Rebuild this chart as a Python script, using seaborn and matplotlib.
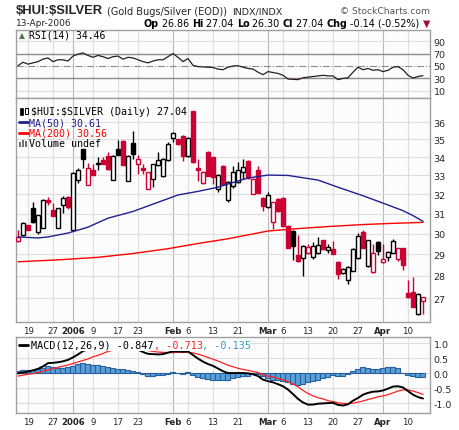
import matplotlib
matplotlib.use('Agg')
import matplotlib.pyplot as plt
import numpy as np
import seaborn as sns
from matplotlib.lines import Line2D
from matplotlib.patches import Rectangle
from matplotlib.ticker import FixedLocator, FixedFormatter, NullLocator

# one entry per session, 15-Dec-2005 .. 13-Apr-2006
opens = [29.65, 29.93, 30.45, 31.29, 30.10, 30.30, 31.72, 31.19, 30.29, 31.44,
         31.84, 30.20, 32.73, 34.44, 32.50, 33.28, 33.60, 33.85, 34.06, 32.78,
         34.44, 34.92, 32.71, 34.82, 33.62, 33.42, 32.28, 32.80, 33.58, 32.97,
         33.84, 35.08, 35.00, 35.20, 34.07, 36.67, 33.42, 32.60, 34.29, 34.00,
         32.28, 33.51, 31.72, 32.42, 32.63, 33.17, 33.77, 32.02, 33.31, 31.80,
         31.33, 30.59, 31.76, 31.81, 30.40, 30.15, 28.97, 28.82, 29.07, 28.86,
         29.07, 29.69, 29.21, 29.26, 28.63, 28.12, 27.79, 28.24, 28.84, 30.07,
         28.45, 28.19, 29.61, 28.63, 28.86, 29.07, 28.76, 29.30, 27.20, 27.26,
         26.30, 26.86]
highs = [30.20, 30.60, 30.45, 31.60, 30.95, 31.75, 31.85, 31.55, 31.30, 31.93,
         31.90, 33.20, 33.40, 34.45, 33.70, 33.60, 34.00, 34.00, 34.30, 34.10,
         34.95, 34.95, 34.10, 35.50, 34.10, 33.65, 33.20, 33.65, 34.30, 33.95,
         34.85, 35.45, 35.05, 35.25, 35.15, 36.70, 33.90, 33.25, 34.35, 34.00,
         33.10, 33.55, 32.70, 33.50, 33.73, 33.90, 33.82, 32.85, 33.53, 31.85,
         32.11, 31.60, 31.80, 31.85, 30.45, 30.20, 29.93, 29.45, 29.50, 29.60,
         29.84, 29.70, 29.50, 29.66, 28.70, 28.35, 28.45, 29.30, 30.04, 30.20,
         29.70, 29.50, 29.65, 29.50, 29.15, 29.74, 29.32, 29.32, 27.79, 27.96,
         27.20, 27.04]
lows = [29.60, 29.90, 30.20, 30.55, 29.96, 30.30, 31.45, 30.87, 30.28, 31.02,
        31.25, 30.15, 32.60, 33.40, 32.50, 33.00, 33.30, 33.60, 33.30, 32.75,
        34.10, 33.55, 32.70, 33.90, 33.10, 33.10, 32.25, 32.40, 33.50, 32.90,
        33.80, 34.85, 34.70, 33.80, 34.00, 33.70, 32.70, 32.55, 32.95, 32.55,
        32.10, 32.50, 31.60, 32.35, 32.60, 32.81, 32.80, 32.00, 32.05, 31.11,
        31.30, 30.23, 31.10, 30.35, 29.30, 28.71, 28.66, 27.97, 29.00, 28.80,
        29.00, 29.20, 29.05, 29.00, 27.87, 28.10, 27.64, 28.20, 28.80, 29.30,
        28.40, 28.15, 28.95, 28.60, 28.70, 29.05, 28.70, 28.28, 27.00, 26.60,
        26.28, 26.30]
closes = [29.85, 30.53, 30.20, 30.58, 30.93, 31.70, 31.62, 30.87, 31.27, 31.79,
          31.32, 33.14, 33.31, 33.91, 33.41, 33.04, 33.70, 33.62, 33.35, 34.06,
          34.13, 33.58, 34.06, 34.17, 33.90, 33.32, 33.19, 33.62, 33.84, 33.90,
          34.74, 35.37, 34.72, 34.07, 35.10, 33.73, 33.30, 33.20, 32.97, 32.90,
          33.00, 32.54, 32.65, 33.17, 33.31, 33.44, 32.85, 32.81, 32.07, 31.38,
          31.98, 31.59, 31.15, 30.40, 29.30, 29.40, 28.68, 29.39, 29.33, 29.42,
          29.45, 29.26, 29.36, 29.02, 28.06, 28.32, 28.39, 29.26, 29.88, 29.31,
          29.69, 29.07, 29.18, 28.79, 29.10, 29.64, 29.30, 28.50, 27.03, 26.62,
          27.18, 27.04]
prev_close = 30.10  # session before the first one shown

ma50_days = [0, 4, 6, 10, 14, 18, 23, 28, 32, 36, 40, 42, 46, 50, 54, 60, 64, 69, 74, 77, 79, 81]
ma50 = [29.84, 29.79, 29.84, 30.03, 30.32, 30.77, 31.11, 31.58, 31.96, 32.15, 32.37,
        32.54, 32.86, 33.02, 33.00, 32.75, 32.37, 31.92, 31.44, 31.15, 30.90, 30.61]
ma200_days = [0, 8, 16, 23, 30, 36, 42, 50, 56, 62, 69, 74, 81]
ma200 = [28.65, 28.74, 28.86, 29.04, 29.27, 29.52, 29.75, 30.13, 30.25, 30.35, 30.45, 30.50, 30.56]

rsi = [50.5, 56, 53, 55, 57, 61, 63, 57, 60, 60, 58, 66, 69, 71, 67, 64, 67, 65, 62, 65,
       66, 61, 64, 63, 60, 57, 55, 58, 60, 60, 65, 70, 64, 57, 62, 51, 49, 48.5, 48, 47.5,
       45, 44, 48, 50, 50.5, 48, 46, 45, 40, 36, 41, 39.5, 38, 35, 29, 28.5, 28, 31, 32, 33,
       34, 35, 34, 34, 28, 30, 31, 40, 48, 44, 46, 43, 44, 41, 43, 48, 49, 44, 35, 30.5,
       33, 34.46]

macd = [-0.01, 0.02, 0.05, 0.09, 0.14, 0.22, 0.33, 0.34, 0.36, 0.39, 0.44, 0.52, 0.62, 0.73,
        0.80, 0.84, 0.88, 0.90, 0.90, 0.92, 0.93, 0.90, 0.88, 0.86, 0.78, 0.70, 0.64, 0.63,
        0.62, 0.63, 0.68, 0.72, 0.72, 0.71, 0.72, 0.60, 0.48, 0.38, 0.30, 0.24, 0.15, 0.06,
        0.0, 0.0, 0.0, 0.0, -0.01, -0.04, -0.10, -0.22, -0.27, -0.31, -0.37, -0.44, -0.55,
        -0.70, -0.86, -0.98, -1.05, -1.05, -1.02, -1.01, -1.0, -0.99, -1.06, -1.08, -1.04,
        -0.92, -0.83, -0.72, -0.66, -0.62, -0.61, -0.58, -0.52, -0.45, -0.44, -0.48, -0.60,
        -0.72, -0.80, -0.847]
signal = [-0.10, -0.07, -0.04, -0.02, 0.02, 0.06, 0.11, 0.15, 0.19, 0.23, 0.27, 0.32, 0.37,
          0.42, 0.47, 0.54, 0.59, 0.65, 0.72, 0.76, 0.79, 0.80, 0.81, 0.81, 0.80, 0.78, 0.75,
          0.72, 0.70, 0.69, 0.68, 0.68, 0.69, 0.69, 0.69, 0.67, 0.63, 0.58, 0.52, 0.46, 0.40,
          0.33, 0.26, 0.21, 0.16, 0.12, 0.09, 0.05, 0.02, -0.06, -0.10, -0.13, -0.18, -0.22,
          -0.29, -0.36, -0.46, -0.58, -0.68, -0.76, -0.82, -0.86, -0.92, -0.95, -0.99, -1.01,
          -1.02, -1.0, -0.97, -0.93, -0.88, -0.84, -0.79, -0.76, -0.72, -0.66, -0.60, -0.56,
          -0.56, -0.60, -0.65, -0.713]
hist = [0.08, 0.11, 0.11, 0.11, 0.13, 0.18, 0.22, 0.20, 0.18, 0.18, 0.20, 0.25, 0.31, 0.32,
        0.30, 0.28, 0.27, 0.24, 0.20, 0.17, 0.15, 0.12, 0.09, 0.07, 0.03, -0.03, -0.10, -0.10,
        -0.08, -0.06, -0.02, 0.03, 0.0, -0.03, 0.02, -0.05, -0.12, -0.17, -0.20, -0.22, -0.24,
        -0.24, -0.22, -0.15, -0.13, -0.11, -0.11, -0.04, -0.02, -0.11, -0.15, -0.22, -0.24,
        -0.27, -0.30, -0.36, -0.39, -0.36, -0.31, -0.27, -0.22, -0.17, -0.13, -0.08, -0.11,
        -0.11, -0.04, 0.06, 0.14, 0.20, 0.17, 0.14, 0.12, 0.17, 0.20, 0.20, 0.17, 0.0, -0.08,
        -0.11, -0.12, -0.135]

tick_days = [2, 7, 11, 15, 20, 24, 31, 34, 39, 44, 50, 53, 58, 63, 68, 73, 78]
tick_labels = ['19', '27', '2006', '9', '17', '23', 'Feb', '6', '13', '21',
               'Mar', '6', '13', '20', '27', 'Apr', '10']
bold_labels = {'2006', 'Feb', 'Mar', 'Apr'}
month_days = [11, 31, 50, 73]
price_ticks = [27, 28, 29, 30, 31, 32, 33, 34, 35, 36]
rsi_ticks = [90, 70, 50, 30, 10]
macd_ticks = [1.0, 0.5, 0.0, -0.5, -1.0]

RED = '#cc0033'
NAVY = '#202090'
W, H = 460, 431

sns.set_style('white')
plt.rcParams['font.family'] = ['DejaVu Sans']

fig = plt.figure(figsize=(W / 100, H / 100), dpi=100)


def box(x0, y0, x1, y1):
    return [x0 / W, 1 - y1 / H, (x1 - x0) / W, (y1 - y0) / H]


ax_rsi = fig.add_axes(box(16, 31, 430, 99))
ax_px = fig.add_axes(box(16, 99, 430, 323))
ax_macd = fig.add_axes(box(16, 338, 430, 414))


def style_panel(ax, show_x):
    ax.set_facecolor('#fcfcfc')
    for s in ax.spines.values():
        s.set_color('#a0a0a0')
        s.set_linewidth(1.0)
    ax.set_xlim(-0.4, 82.4)
    ax.yaxis.tick_right()
    ax.tick_params(axis='y', length=0, labelsize=6.8, pad=2.5)
    ax.tick_params(axis='x', length=0, labelsize=6.2, pad=3)
    ax.set_xticks(tick_days)
    if show_x:
        ax.set_xticklabels(tick_labels)
        for lbl in ax.get_xticklabels():
            if lbl.get_text() in bold_labels:
                lbl.set_fontweight('bold')
    else:
        ax.set_xticklabels([])
    for d in tick_days:
        ax.axvline(d, color='#b8b8b8' if d in month_days else '#dedede', lw=0.8, zorder=0)


days = np.arange(len(closes))

# ---- RSI ----
style_panel(ax_rsi, False)
ax_rsi.set_ylim(-1.6, 108)
for v in (90, 10):
    ax_rsi.axhline(v, color='#dedede', lw=0.8, zorder=0)
ax_rsi.axhline(70, color='#8c8c8c', lw=1.0, zorder=1)
ax_rsi.axhline(30, color='#8c8c8c', lw=1.0, zorder=1)
ax_rsi.axhline(50, color='#8c8c8c', lw=0.8, ls='-.', zorder=1)
rsi_a = np.array(rsi)
ax_rsi.fill_between(days, rsi_a, 30, where=rsi_a < 30, interpolate=True,
                    color='#b06a6a', lw=0, zorder=2)
sns.lineplot(x=days, y=rsi_a, ax=ax_rsi, color='#222222', lw=0.9, zorder=3)
ax_rsi.yaxis.set_major_locator(FixedLocator(rsi_ticks))
ax_rsi.set_yticklabels([str(t) for t in rsi_ticks])
ax_rsi.set_xlabel('')
ax_rsi.set_ylabel('')

# ---- price ----
style_panel(ax_px, True)
ax_px.set_yscale('log')
ax_px.set_ylim(25.96, 37.46)
ax_px.yaxis.set_major_locator(FixedLocator(price_ticks))
ax_px.yaxis.set_major_formatter(FixedFormatter([str(p) for p in price_ticks]))
ax_px.yaxis.set_minor_locator(NullLocator())
for p in price_ticks:
    ax_px.axhline(p, color='#dedede', lw=0.8, zorder=0)

o = np.array(opens)
hi = np.array(highs)
lo = np.array(lows)
c = np.array(closes)
prev = np.concatenate([[prev_close], c[:-1]])
edge = np.where(c >= prev, 'black', RED)
face = np.where(c > o, 'white', edge)
ax_px.vlines(days, lo, hi, colors=edge, lw=1.0, zorder=2)
body = np.maximum(np.abs(c - o), 0.025)
ax_px.bar(days, body, bottom=np.minimum(o, c), width=0.72, color=face,
          edgecolor=edge, linewidth=1.0, zorder=3)

sns.lineplot(x=ma200_days, y=ma200, ax=ax_px, color='#ff0000', lw=1.0, zorder=4)
sns.lineplot(x=ma50_days, y=ma50, ax=ax_px, color=NAVY, lw=1.0, zorder=4)
ax_px.set_xlabel('')
ax_px.set_ylabel('')

# ---- MACD ----
style_panel(ax_macd, True)
ax_macd.set_ylim(-1.33, 1.2)
for v in macd_ticks:
    ax_macd.axhline(v, color='#dedede', lw=0.8, zorder=0)
ax_macd.bar(days, hist, width=1.0, color='#5aa0d8', edgecolor='#2a5f9e',
            linewidth=0.8, zorder=2)
sns.lineplot(x=days, y=signal, ax=ax_macd, color='#ff2020', lw=0.9, zorder=3)
sns.lineplot(x=days, y=macd, ax=ax_macd, color='black', lw=1.4, zorder=4)
ax_macd.yaxis.set_major_locator(FixedLocator(macd_ticks))
ax_macd.set_yticklabels(['%.1f' % t for t in macd_ticks])
ax_macd.set_xlabel('')
ax_macd.set_ylabel('')

# ---- texts ----
renderer = fig.canvas.get_renderer()


def ftext(x, y, s, **kw):
    kw.setdefault('va', 'center')
    return fig.text(x / W, 1 - y / H, s, parse_math=False, **kw)


def chain(x, y, parts, family='DejaVu Sans', size=7, right=None):
    texts = []
    for s, col, wt in parts:
        t = ftext(x, y, s, color=col, fontsize=size, fontweight=wt, family=family, zorder=10)
        x += t.get_window_extent(renderer).width
        texts.append(t)
    if right is not None:
        shift = (right - x) / W
        for t in texts:
            px, py = t.get_position()
            t.set_position((px + shift, py))
    return texts


ftext(16, 11, '$HUI:$SILVER', fontsize=9.4, fontweight='bold', family='Liberation Sans')
ftext(107, 12, '(Gold Bugs/Silver (EOD))', fontsize=7)
ftext(232, 12, 'INDX/INDX', fontsize=6.8)
ftext(430, 12, '\u00a9 StockCharts.com', fontsize=6.6, color='#555555', ha='right')
ftext(16, 24, '13-Apr-2006', fontsize=6.5)

quote = [('Op', 'black', 'bold'), (' 26.86 ', 'black', 'normal'),
         ('Hi', 'black', 'bold'), (' 27.04 ', 'black', 'normal'),
         ('Lo', 'black', 'bold'), (' 26.30 ', 'black', 'normal'),
         ('Cl', 'black', 'bold'), (' 27.04 ', 'black', 'normal'),
         ('Chg', 'black', 'bold'), (' -0.14 (-0.52%) ', 'black', 'normal'),
         ('\u25bc', '#a01030', 'normal')]
chain(135, 24, quote, size=6.9, right=430)

mono = 'DejaVu Sans Mono'
ftext(19, 36, '\u25b2', fontsize=5.5, color='#4a7a4a')
chain(29, 36, [('RSI(14) 34.46', 'black', 'normal')], family=mono, size=7)

# price legend
fig.add_artist(Rectangle((20 / W, 1 - 116 / H), 3 / W, 7 / H, transform=fig.transFigure,
                         facecolor='black', edgecolor='black', lw=0.5))
fig.add_artist(Rectangle((25 / W, 1 - 115 / H), 3 / W, 6 / H, transform=fig.transFigure,
                         facecolor='white', edgecolor='black', lw=0.7))
chain(31, 112, [('$HUI:$SILVER (Daily) 27.04', 'black', 'normal')], family=mono, size=7.2)
fig.add_artist(Line2D([19 / W, 28 / W], [1 - 123 / H] * 2, transform=fig.transFigure,
                      color=NAVY, lw=2))
chain(29, 123, [('MA(50) 30.61', NAVY, 'normal')], family=mono, size=7.2)
fig.add_artist(Line2D([19 / W, 28 / W], [1 - 134 / H] * 2, transform=fig.transFigure,
                      color='#ff0000', lw=2))
chain(29, 134, [('MA(200) 30.56', '#ff0000', 'normal')], family=mono, size=7.2)
for i, hgt in enumerate([5, 7, 6]):
    fig.add_artist(Rectangle(((19 + 3 * i) / W, 1 - 148 / H), 2 / W, hgt / H,
                             transform=fig.transFigure, facecolor='#707070', lw=0))
chain(29, 144, [('Volume undef', 'black', 'normal')], family=mono, size=7.2)

# MACD legend
fig.add_artist(Rectangle((18 / W, 1 - 352 / H), 232 / W, 12 / H, transform=fig.transFigure,
                         facecolor='white', edgecolor='none', zorder=8))
fig.add_artist(Line2D([19 / W, 28 / W], [1 - 346 / H] * 2, transform=fig.transFigure,
                      color='black', lw=2, zorder=9))
chain(31, 346, [('MACD(12,26,9) -0.847', 'black', 'normal'), (', -0.713', '#ff2020', 'normal'),
                (', -0.135', '#3399cc', 'normal')], family=mono, size=7.3)

fig.savefig('out.png', dpi=100)
